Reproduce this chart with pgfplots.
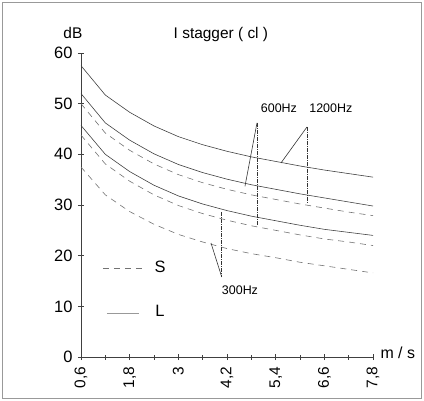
\documentclass[border=0pt]{standalone}
\usepackage{pgfplots}
\pgfplotsset{compat=1.18}
\usepackage{fontspec}
\setmainfont{Liberation Sans}
\begin{document}
\begin{tikzpicture}
\begin{axis}[
  scale only axis,
  width=292bp, height=304bp,
  xmin=0.6, xmax=7.8, ymin=0, ymax=60,
  axis x line=bottom, axis y line=left,
  axis line style={black!75, line width=0.7pt, -},
  xtick={0.6,1.8,3,4.2,5.4,6.6,7.8},
  xticklabels={{0,6},{1,8},3,{4,2},{5,4},{6,6},{7,8}},
  minor x tick num=1,
  ytick={0,10,20,30,40,50,60},
  tick align=center,
  major tick length=6bp, minor tick length=5bp,
  tick style={black!75, line width=0.6pt},
  /pgf/number format/assume math mode=true,
  xticklabel style={rotate=90, anchor=east, font=\fontsize{15.5}{16}\selectfont, yshift=0bp, xshift=-3bp},
  yticklabel style={font=\fontsize{16.5}{17}\selectfont, xshift=-2bp},
  clip=false,
]
% outer frame / bounding box
\path (axis cs:-1.397,-8.68) rectangle (axis cs:9.057,70.46);
\draw[black!40, line width=0.8pt] (axis cs:-1.33,-8.1) rectangle (axis cs:8.99,69.9);

% S curves (dashed)
\addplot[black!55, line width=0.6pt, dash pattern=on 6bp off 5bp] coordinates {
 (0.6,50.0) (1.2,44.2) (1.8,40.8) (2.4,38.1) (3.0,36.0) (3.6,34.4) (4.2,33.1)
 (4.8,32.0) (5.4,31.1) (6.0,30.2) (6.6,29.4) (7.2,28.6) (7.8,27.9)};
\addplot[black!55, line width=0.6pt, dash pattern=on 6bp off 5bp] coordinates {
 (0.6,43.8) (1.2,38.1) (1.8,34.7) (2.4,32.0) (3.0,29.9) (3.6,28.3) (4.2,27.0)
 (4.8,25.9) (5.4,25.0) (6.0,24.1) (6.6,23.3) (7.2,22.7) (7.8,22.0)};
\addplot[black!55, line width=0.6pt, dash pattern=on 6bp off 5bp] coordinates {
 (0.6,37.5) (1.2,32.0) (1.8,28.7) (2.4,26.2) (3.0,24.2) (3.6,22.7) (4.2,21.4)
 (4.8,20.4) (5.4,19.6) (6.0,18.7) (6.6,18.0) (7.2,17.3) (7.8,16.6)};
% L curves (solid)
\addplot[black!75, line width=0.6pt] coordinates {
 (0.6,57.5) (1.2,51.7) (1.8,48.3) (2.4,45.6) (3.0,43.5) (3.6,41.9) (4.2,40.6)
 (4.8,39.5) (5.4,38.6) (6.0,37.7) (6.6,36.9) (7.2,36.2) (7.8,35.5)};
\addplot[black!75, line width=0.6pt] coordinates {
 (0.6,52.0) (1.2,46.2) (1.8,42.8) (2.4,40.1) (3.0,38.0) (3.6,36.4) (4.2,35.1)
 (4.8,34.0) (5.4,33.1) (6.0,32.2) (6.6,31.4) (7.2,30.6) (7.8,29.8)};
\addplot[black!75, line width=0.6pt] coordinates {
 (0.6,45.7) (1.2,40.0) (1.8,36.6) (2.4,33.9) (3.0,31.8) (3.6,30.2) (4.2,28.9)
 (4.8,27.8) (5.4,26.9) (6.0,26.0) (6.6,25.2) (7.2,24.6) (7.8,24.0)};

% annotation lines
\addplot[black!80, line width=0.6pt, dash pattern=on 4bp off 1bp on 1bp off 1bp] coordinates {(4.07,28.6) (4.07,15.8)};
\addplot[black!80, line width=0.6pt] coordinates {(3.805,22.5) (4.07,15.8)};
\addplot[black!80, line width=0.6pt, dash pattern=on 4bp off 1bp on 1bp off 1bp] coordinates {(4.939,46.2) (4.939,25.9)};
\addplot[black!80, line width=0.6pt] coordinates {(4.939,46.2) (4.643,33.7)};
\addplot[black!80, line width=0.6pt, dash pattern=on 4bp off 1bp on 1bp off 1bp] coordinates {(6.172,45.4) (6.172,30.4)};
\addplot[black!80, line width=0.6pt] coordinates {(6.172,45.4) (5.531,38.3)};

% legend samples
\addplot[black!55, line width=0.6pt, dash pattern=on 6bp off 5bp] coordinates {(1.142,17.6) (2.129,17.6)};
\addplot[black!40, line width=0.6pt] coordinates {(1.24,8.7) (2.03,8.7)};
\node[font=\fontsize{16.5}{17}\selectfont] at (axis cs:2.548,17.8) {S};
\node[font=\fontsize{16.5}{17}\selectfont] at (axis cs:2.548,9.1) {L};

% labels
\node[font=\fontsize{12.5}{13}\selectfont] at (axis cs:4.52,13.2) {300Hz};
\node[font=\fontsize{12.5}{13}\selectfont] at (axis cs:5.48,49.1) {600Hz};
\node[font=\fontsize{12.5}{13}\selectfont] at (axis cs:6.76,49.1) {1200Hz};
\node[font=\fontsize{15.5}{16}\selectfont] at (axis cs:0.4,63.9) {dB};
\node[font=\fontsize{15.5}{16}\selectfont] at (axis cs:4.05,63.7) {I stagger ( cl )};
\node[font=\fontsize{16}{17}\selectfont, anchor=west, inner sep=0pt] at (axis cs:7.98,0.8) {m / s};
\end{axis}
\end{tikzpicture}
\end{document}
